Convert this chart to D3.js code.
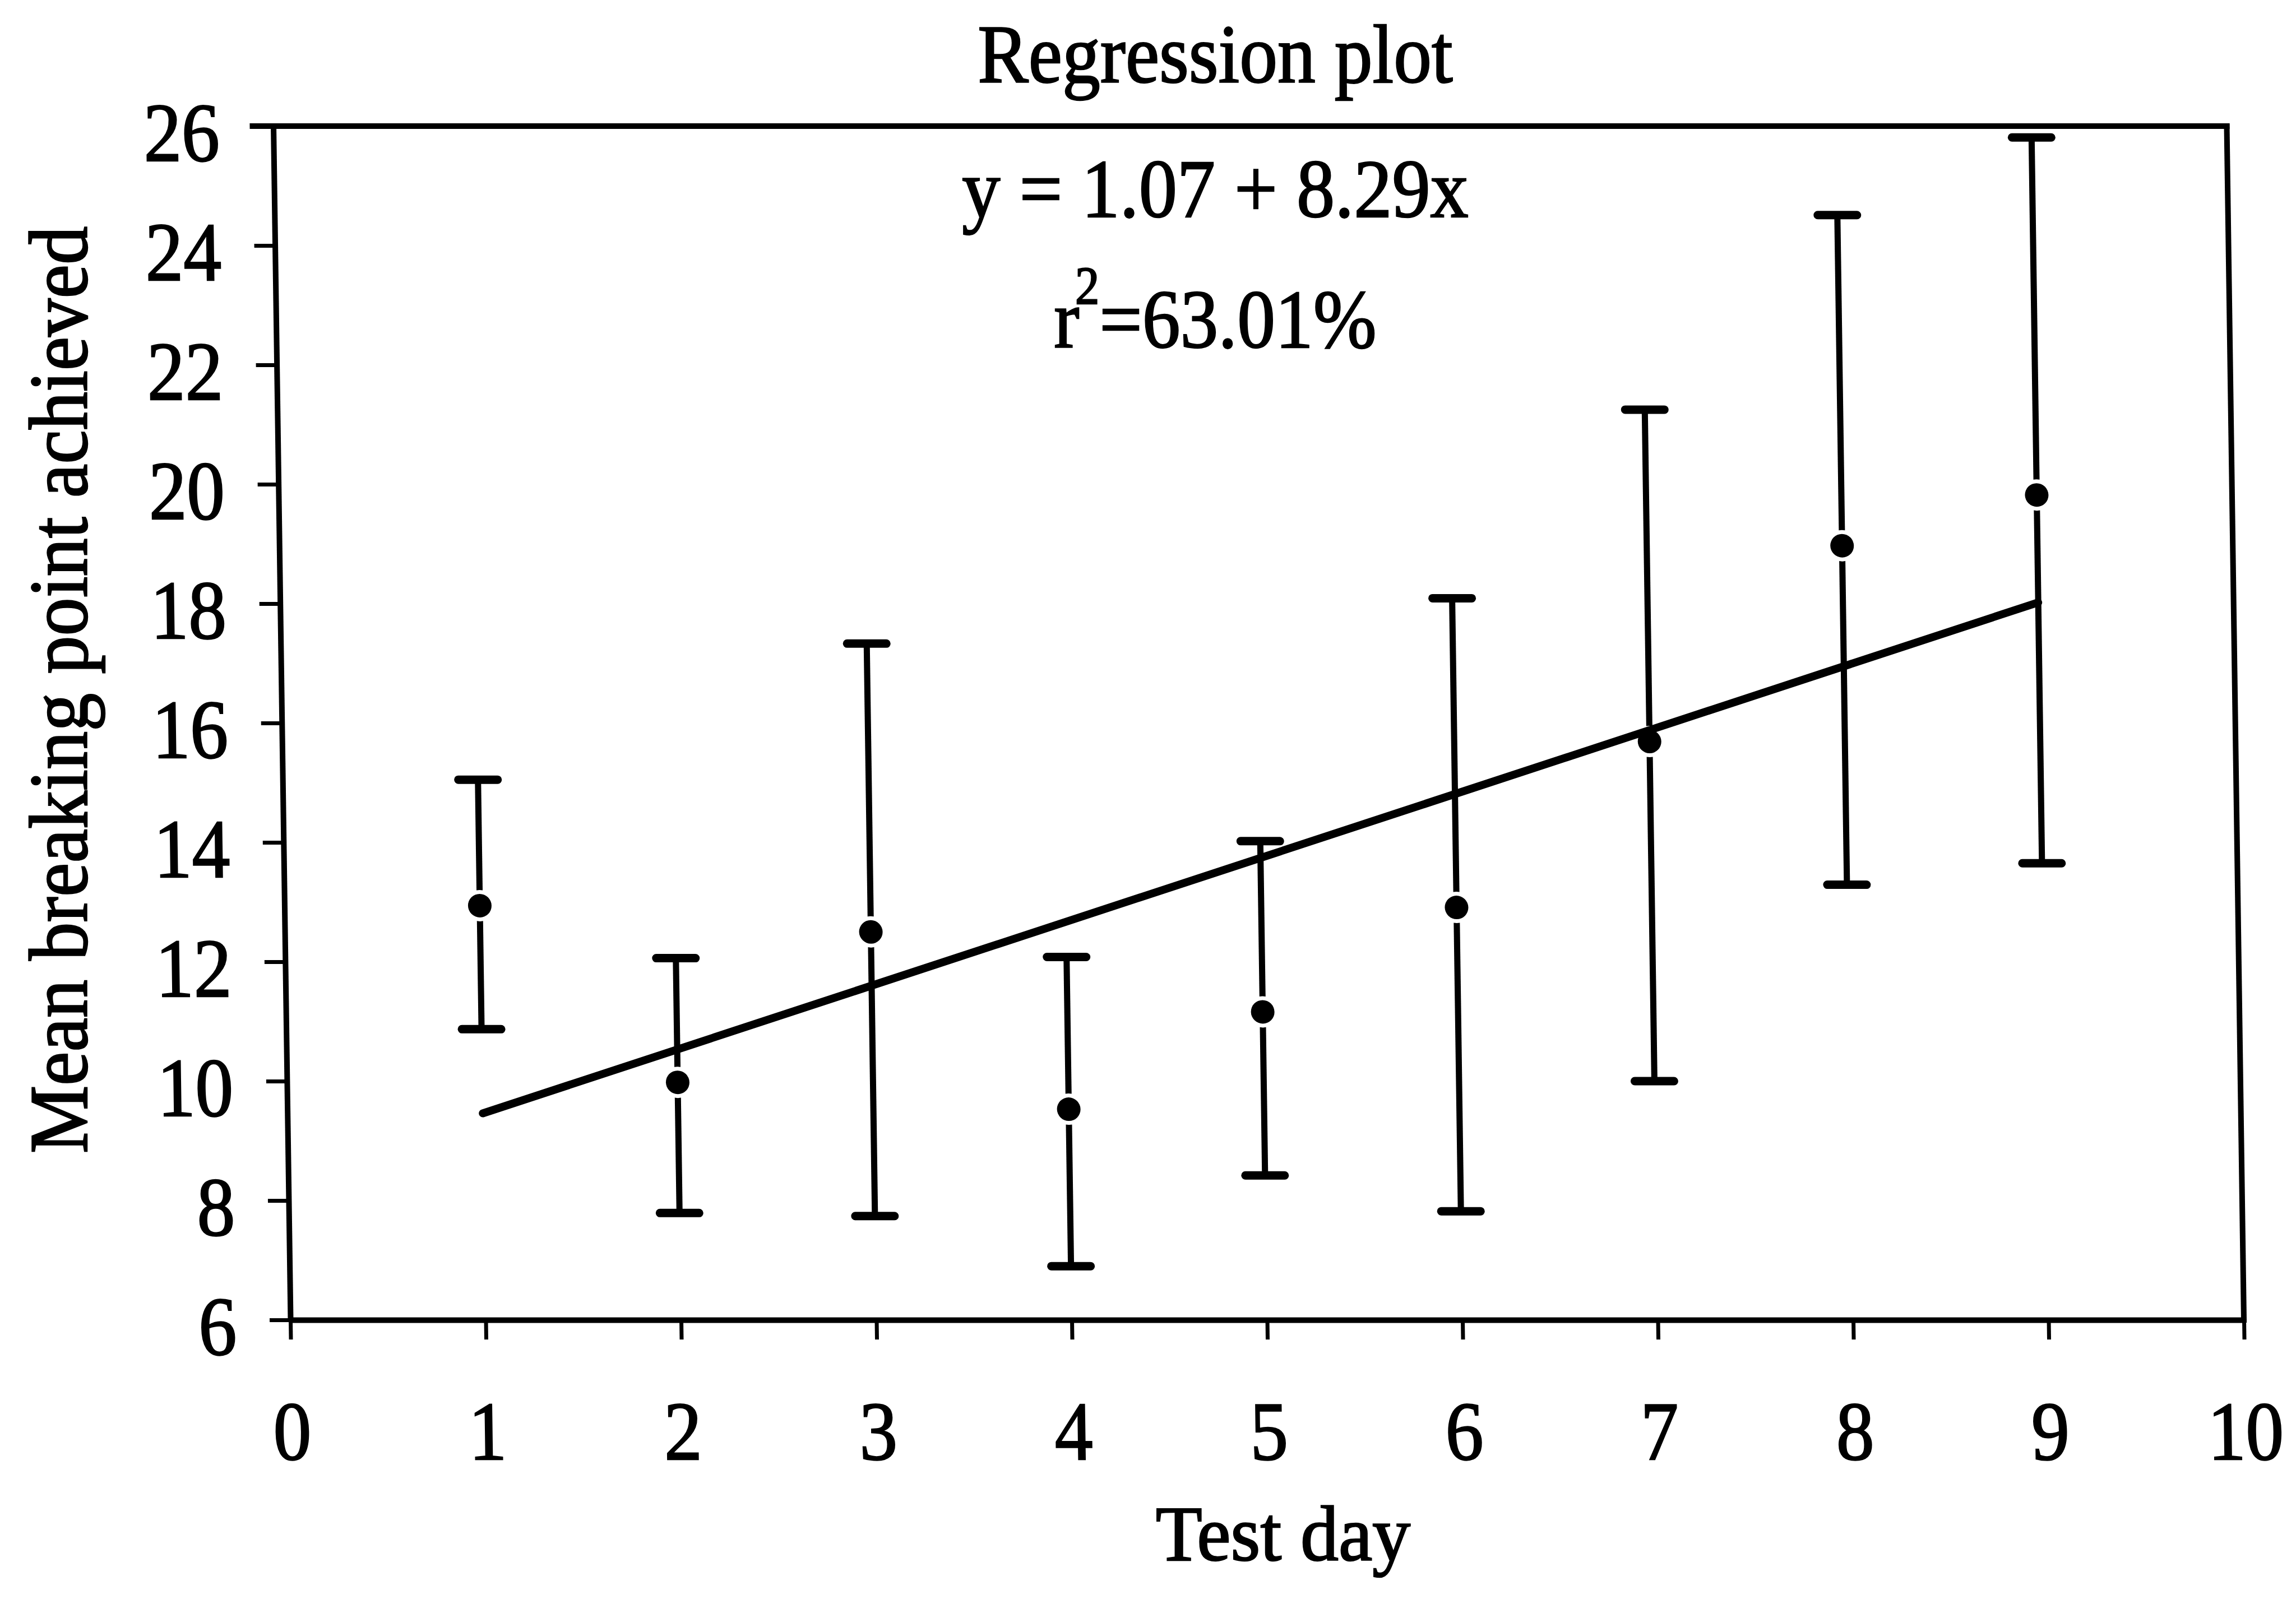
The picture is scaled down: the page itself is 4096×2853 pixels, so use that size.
<!DOCTYPE html>
<html>
<head>
<meta charset="utf-8">
<script src="https://cdn.jsdelivr.net/npm/d3@7/dist/d3.min.js"></script>
<style>
    html, body { margin: 0; padding: 0; background: #fff; }
    svg { display: block; background: #fff; }
    /* scanned print: glyphs come out a bit heavier than plain Times */
    text { font-family: "Liberation Serif", "Times New Roman", serif; fill: #000; stroke: #000; stroke-width: 2.5px; }
</style>
</head>
<body>
<div id="chart"></div>
<script>
// data
const days = [1, 2, 3, 4, 5, 6, 7, 8, 9];
const meanBP = [12.94, 9.98, 12.5, 9.53, 11.16, 12.91, 15.69, 18.97, 19.82];
const upperBP = [15.05, 12.06, 17.33, 12.08, 14.02, 18.09, 21.25, 24.51, 25.81];
const lowerBP = [10.87, 7.79, 7.74, 6.9, 8.42, 7.82, 10.0, 13.29, 13.65];

// fitted line, end points
const regDays = [1, 9];
const regBP = [9.46, 18.02];

const xTicks = [0, 1, 2, 3, 4, 5, 6, 7, 8, 9, 10];
const yTicks = [6, 8, 10, 12, 14, 16, 18, 20, 22, 24, 26];

const titleText = 'Regression plot';
const eqText = 'y = 1.07 + 8.29x';
const xTitle = 'Test day';
const yTitle = 'Mean breaking point achieved';

const width = 4096;
const height = 2853;
const margins = { top: 225, right: 93, bottom: 498, left: 518 };

function scaledText (parent, str, x, y, size, sx) {
    return parent.append('text')
        .attr('transform', `translate(${x},${y}) scale(${sx},1)`)
        .attr('text-anchor', 'middle')
        .attr('font-size', size)
        .text(str);
}

function squeezeLabels (axisG, sx) {
    axisG.selectAll('.tick text').each(function () {
        const t = d3.select(this);
        const tx = +t.attr('x') || 0;
        t.attr('x', 0).attr('transform', `translate(${tx},0) scale(${sx},1)`);
    });
}

function render (el) {
    const svg = d3.select(el).append('svg')
        .attr('width', width)
        .attr('height', height);

    const x = d3.scaleLinear()
        .domain([0, 10])
        .range([margins.left, width - margins.right]);
    const y = d3.scaleLinear()
        .domain([6, 26])
        .range([height - margins.bottom, margins.top]);

    const base = y(6);
    // the scan is slightly sheared, so the plot body leans left toward the top
    const body = svg.append('g')
        .attr('transform', `translate(0,${base}) skewX(0.82) translate(0,${-base})`);

    // axes
    const yAxis = d3.axisLeft(y)
        .tickValues(yTicks)
        .tickSize(37)
        .tickSizeOuter(0)
        .tickPadding(59)
        .tickFormat(d3.format('d'));
    const yG = body.append('g')
        .attr('transform', `translate(${x(0)},0)`)
        .call(yAxis)
        .attr('font-family', null)
        .attr('font-size', null);
    yG.select('.domain').attr('stroke', '#000').attr('stroke-width', 10);
    yG.selectAll('.tick line').attr('stroke', '#000').attr('stroke-width', 7);
    yG.selectAll('.tick text').attr('font-size', 149).attr('dy', '0.41em');
    squeezeLabels(yG, 0.91);

    const xAxis = d3.axisBottom(x)
        .tickValues(xTicks)
        .tickSize(35)
        .tickSizeOuter(0)
        .tickPadding(108)
        .tickFormat(d3.format('d'));
    const xG = body.append('g')
        .attr('transform', `translate(0,${y(6)})`)
        .call(xAxis)
        .attr('font-family', null)
        .attr('font-size', null);
    xG.select('.domain').attr('stroke', '#000').attr('stroke-width', 10);
    xG.selectAll('.tick line').attr('stroke', '#000').attr('stroke-width', 7);
    xG.selectAll('.tick text').attr('font-size', 149);
    squeezeLabels(xG, 0.91);

    // top and right side of the box
    body.append('line')
        .attr('x1', x(0) - 37).attr('x2', x(10))
        .attr('y1', y(26)).attr('y2', y(26))
        .attr('stroke', '#000').attr('stroke-width', 10)
        .attr('stroke-linecap', 'square');
    body.append('line')
        .attr('x1', x(10)).attr('x2', x(10))
        .attr('y1', y(26)).attr('y2', y(6))
        .attr('stroke', '#000').attr('stroke-width', 10)
        .attr('stroke-linecap', 'square');

    const pts = days.map((d, i) => ({ day: d, mean: meanBP[i], hi: upperBP[i], lo: lowerBP[i] }));

    // error bars
    const bars = body.append('g').attr('stroke', '#000');
    bars.selectAll('line.stem')
        .data(pts)
        .enter()
        .append('line')
        .attr('class', 'stem')
        .attr('x1', d => x(d.day)).attr('x2', d => x(d.day))
        .attr('y1', d => y(d.hi)).attr('y2', d => y(d.lo))
        .attr('stroke-width', 11);
    ['hi', 'lo'].forEach(k => {
        bars.selectAll(`line.cap-${k}`)
            .data(pts)
            .enter()
            .append('line')
            .attr('class', `cap-${k}`)
            .attr('x1', d => x(d.day) - 35).attr('x2', d => x(d.day) + 35)
            .attr('y1', d => y(d[k])).attr('y2', d => y(d[k]))
            .attr('stroke-width', 15)
            .attr('stroke-linecap', 'round');
    });

    // means, with a small white gap round each dot
    body.selectAll('circle.halo')
        .data(pts)
        .enter()
        .append('circle')
        .attr('class', 'halo')
        .attr('cx', d => x(d.day)).attr('cy', d => y(d.mean))
        .attr('r', 28)
        .attr('fill', '#fff');
    body.selectAll('circle.dot')
        .data(pts)
        .enter()
        .append('circle')
        .attr('class', 'dot')
        .attr('cx', d => x(d.day)).attr('cy', d => y(d.mean))
        .attr('r', 21)
        .attr('fill', '#000');

    // regression line
    const line = d3.line()
        .x(d => x(d[0]))
        .y(d => y(d[1]));
    body.append('path')
        .datum(regDays.map((d, i) => [d, regBP[i]]))
        .attr('d', line)
        .attr('fill', 'none')
        .attr('stroke', '#000')
        .attr('stroke-width', 14)
        .attr('stroke-linecap', 'round');

    // texts
    scaledText(svg, titleText, 2168, 147, 149, 0.91);
    scaledText(svg, eqText, 2168, 387, 149, 0.915);

    const r2 = svg.append('text')
        .attr('transform', 'translate(2168,620) scale(0.91,1)')
        .attr('text-anchor', 'middle')
        .attr('font-size', 149);
    r2.append('tspan').text('r');
    r2.append('tspan').attr('font-size', 95).attr('dx', -8).attr('dy', -78).text('2');
    r2.append('tspan').attr('dy', 78).text('=63.01%');

    scaledText(svg, xTitle, 2289, 2784, 140, 0.97);

    svg.append('text')
        .attr('transform', 'translate(155,1231) rotate(-90) scale(0.915,1)')
        .attr('text-anchor', 'middle')
        .attr('font-size', 149)
        .text(yTitle);
}

render(document.getElementById('chart'));
</script>
</body>
</html>
